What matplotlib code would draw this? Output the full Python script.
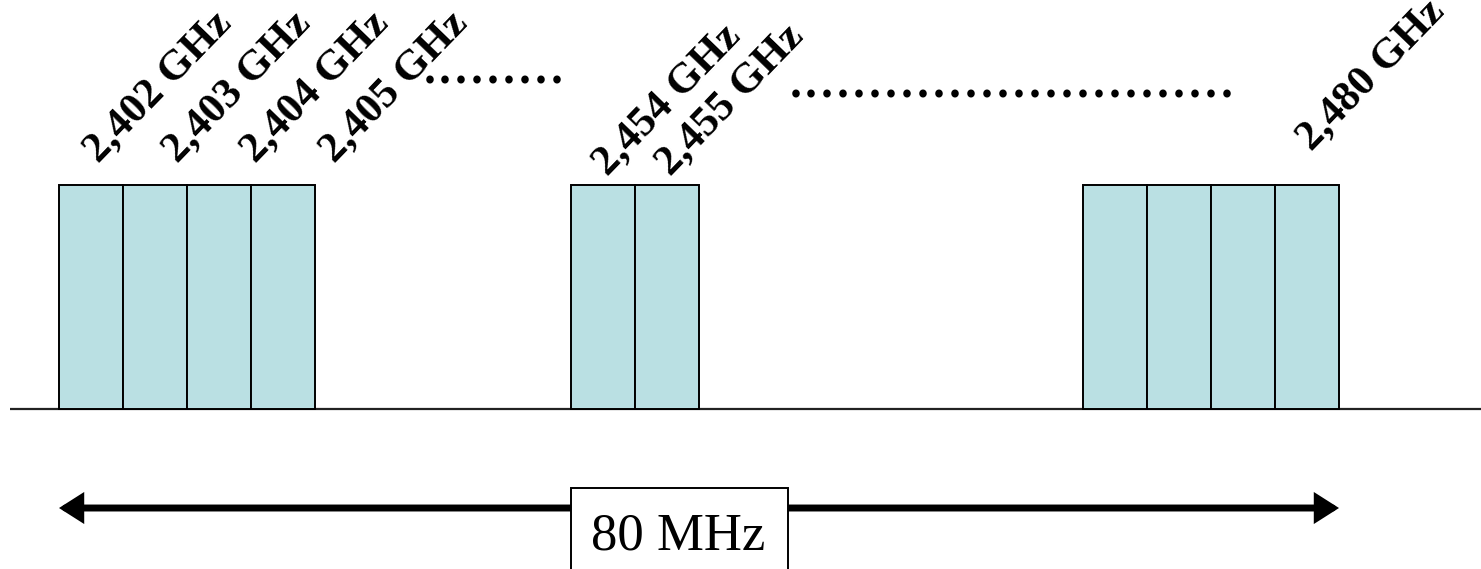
import matplotlib
matplotlib.use("Agg")
import matplotlib.pyplot as plt
from matplotlib import font_manager
from matplotlib.patches import Rectangle

# ---------------- data ----------------
channel_labels = ["2,402 GHz", "2,403 GHz", "2,404 GHz", "2,405 GHz",
                  "2,454 GHz", "2,455 GHz",
                  "", "", "", "2,480 GHz"]
bar_heights = [1, 1, 1, 1, 1, 1, 1, 1, 1, 1]
span_label = "80 MHz"
dots_short = "." * 9
dots_long = "." * 28

# ---------------- layout ----------------
slots = [0, 1, 2, 3, 8, 9, 16, 17, 18, 19]          # bar positions (channel slots)
label_x = [0.61, 1.846, 3.064, 4.299, 8.57, 9.556, None, None, None, 19.56]
label_y = [1.098, 1.098, 1.098, 1.098, 1.040, 1.040, None, None, None, 1.150]

# Times-like font
reg_path = font_manager.findfont(font_manager.FontProperties(family="Liberation Serif"),
                                 fallback_to_default=False)
bold_path = font_manager.findfont(font_manager.FontProperties(family="Liberation Serif",
                                                              weight="bold"),
                                  fallback_to_default=False)
fp_reg = lambda s: font_manager.FontProperties(fname=reg_path, size=s)
fp_bold = lambda s: font_manager.FontProperties(fname=bold_path, size=s)

W, H = 1481, 569
fig = plt.figure(figsize=(W / 100, H / 100), dpi=100)
ax = fig.add_axes([0, 0, 1, 1])
ax.set_xlim(-59 / 64, (W - 59) / 64)
ax.set_ylim((409 - H) / 224, 409 / 224)
ax.axis("off")

# baseline
ax.plot([(10 - 59) / 64, (W - 59) / 64], [0, 0], color="#222222", lw=1.6,
        solid_capstyle="butt", zorder=1)

# channel bars
ax.bar(slots, bar_heights, width=1.0, align="edge", color="#BAE0E3",
       edgecolor="black", linewidth=1.4, zorder=2)

# rotated channel labels
for lab, lx, ly in zip(channel_labels, label_x, label_y):
    if lab and lx is not None:
        ax.text(lx, ly, lab, rotation=46, rotation_mode="anchor",
                ha="left", va="baseline", fontproperties=fp_bold(31), zorder=3)

# ellipsis dots
ax.text(5.67, 1.455, dots_short, ha="left", va="baseline",
        fontproperties=fp_reg(46), zorder=3)
ax.text(11.39, 1.390, dots_long, ha="left", va="baseline",
        fontproperties=fp_reg(46), zorder=3)

# 80 MHz double arrow
ax.annotate("", xy=(slots[-1] + 1, -0.442), xytext=(slots[0], -0.442),
            arrowprops=dict(arrowstyle="<|-|>,head_length=1.1,head_width=0.7",
                            lw=5, color="black", mutation_scale=10,
                            shrinkA=0, shrinkB=0, joinstyle="miter"),
            zorder=3)

# box with label
ax.add_patch(Rectangle((8, -0.3527), 11.39 - 8, -0.6, facecolor="white",
                       edgecolor="black", linewidth=1.4, zorder=4))
ax.text(9.68, -0.629, span_label, ha="center", va="baseline",
        fontproperties=fp_reg(38), zorder=5)

fig.savefig("out.png", dpi=100)
